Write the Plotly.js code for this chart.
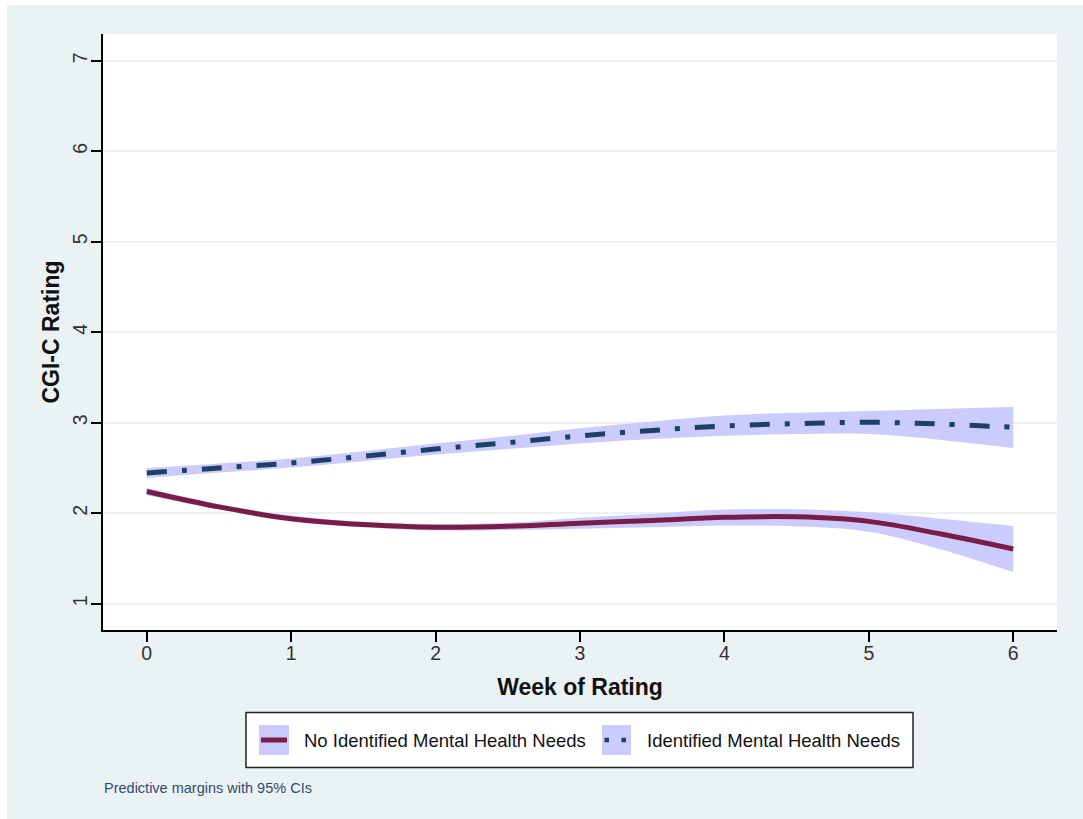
<!DOCTYPE html>
<html>
<head>
<meta charset="utf-8">
<script src="https://cdn.plot.ly/plotly-3.0.1.min.js"></script>
<style>
  html, body { margin: 0; padding: 0; background: #ffffff; }
  #chart { position: absolute; left: 7px; top: 5px; width: 1076px; height: 814px; }
</style>
</head>
<body>
<div id="chart"></div>
<script>
// ---- data ----
const weeks = [0, 0.5, 1, 1.5, 2, 2.5, 3, 3.5, 4, 4.5, 5, 5.5, 6];

const noNeedsMean = [2.24, 2.07, 1.94, 1.875, 1.845, 1.855, 1.89, 1.92, 1.955, 1.96, 1.91, 1.77, 1.605];
const noNeedsLo   = [2.20, 2.04, 1.905, 1.845, 1.81, 1.815, 1.83, 1.845, 1.865, 1.855, 1.795, 1.60, 1.35];
const noNeedsHi   = [2.28, 2.10, 1.975, 1.905, 1.88, 1.895, 1.95, 1.995, 2.04, 2.045, 2.01, 1.94, 1.86];

const needsMean = [2.445, 2.50, 2.555, 2.63, 2.71, 2.78, 2.855, 2.915, 2.965, 2.99, 3.005, 2.985, 2.95];
const needsLo   = [2.39, 2.45, 2.505, 2.575, 2.65, 2.71, 2.77, 2.82, 2.855, 2.875, 2.875, 2.81, 2.72];
const needsHi   = [2.50, 2.55, 2.605, 2.685, 2.77, 2.85, 2.94, 3.015, 3.08, 3.11, 3.13, 3.155, 3.175];

const seriesNames = ["No Identified Mental Health Needs", "Identified Mental Health Needs"];
const xTicks = [0, 1, 2, 3, 4, 5, 6];
const yTicks = [1, 2, 3, 4, 5, 6, 7];
const xTitle = "Week of Rating";
const yTitle = "CGI-C Rating";
const noteText = "Predictive margins with 95% CIs";

// ---- styles ----
const ciFill = "#ccccfc";
const colNo = "#7a1c4a";
const colYes = "#1f3f6b";
const bg = "#eaf2f3";
const font = "Liberation Sans, Arial, Helvetica, sans-serif";

function band(lo, hi) {
  return [
    {x: weeks, y: lo, mode: "lines", line: {width: 0, shape: "spline", smoothing: 1}, hoverinfo: "skip", showlegend: false},
    {x: weeks, y: hi, mode: "lines", line: {width: 0, shape: "spline", smoothing: 1}, fill: "tonexty", fillcolor: ciFill, hoverinfo: "skip", showlegend: false}
  ];
}

const traces = [
  ...band(noNeedsLo, noNeedsHi),
  ...band(needsLo, needsHi),
  {x: weeks, y: noNeedsMean, mode: "lines", name: seriesNames[0], showlegend: false,
   line: {color: colNo, width: 5, shape: "spline"}},
  {x: weeks, y: needsMean, mode: "lines", name: seriesNames[1], showlegend: false,
   line: {color: colYes, width: 5, shape: "spline", dash: "20px,15px,5px,15px"}}
];

// page-pixel -> paper coords (plot area: x 103..1057, y 34..630)
const PX = p => (p - 103) / 954;
const PY = p => (630 - p) / 596;

const shapes = [
  // legend box
  {type: "rect", xref: "paper", yref: "paper", x0: PX(246), x1: PX(913), y0: PY(712.5), y1: PY(767.5),
   fillcolor: "#ffffff", line: {color: "#222", width: 1.5}, layer: "above"},
  // symbol 1
  {type: "rect", xref: "paper", yref: "paper", x0: PX(259), x1: PX(289), y0: PY(725), y1: PY(755),
   fillcolor: ciFill, line: {width: 0}, layer: "above"},
  {type: "line", xref: "paper", yref: "paper", x0: PX(261), x1: PX(287), y0: PY(740), y1: PY(740),
   line: {color: colNo, width: 5}, layer: "above"},
  // symbol 2
  {type: "rect", xref: "paper", yref: "paper", x0: PX(602), x1: PX(631), y0: PY(725), y1: PY(755),
   fillcolor: ciFill, line: {width: 0}, layer: "above"},
  {type: "rect", xref: "paper", yref: "paper", x0: PX(604.5), x1: PX(609), y0: PY(742.3), y1: PY(737.7),
   fillcolor: colYes, line: {width: 0}, layer: "above"},
  {type: "rect", xref: "paper", yref: "paper", x0: PX(621.5), x1: PX(626), y0: PY(742.3), y1: PY(737.7),
   fillcolor: colYes, line: {width: 0}, layer: "above"}
];

const annotations = [
  {xref: "paper", yref: "paper", x: PX(302), y: PY(740), xanchor: "left", yanchor: "middle",
   text: seriesNames[0], showarrow: false, font: {family: font, size: 18.5, color: "#111"}},
  {xref: "paper", yref: "paper", x: PX(645), y: PY(740), xanchor: "left", yanchor: "middle",
   text: seriesNames[1], showarrow: false, font: {family: font, size: 18.5, color: "#111"}},
  {xref: "paper", yref: "paper", x: PX(102), y: PY(788), xanchor: "left", yanchor: "middle",
   text: noteText, showarrow: false, font: {family: font, size: 14.5, color: "#34496e"}}
];

const layout = {
  width: 1076, height: 814,
  margin: {l: 96, r: 26, t: 29, b: 189, pad: 0},
  paper_bgcolor: bg,
  plot_bgcolor: "#ffffff",
  font: {family: font, color: "#222"},
  showlegend: false,
  xaxis: {
    range: [-0.303, 6.303], tickvals: xTicks, ticks: "outside", ticklen: 10, tickwidth: 2, tickcolor: "#000",
    showline: true, linecolor: "#000", linewidth: 2, showgrid: false, zeroline: false,
    tickfont: {size: 19.5, color: "#333"}, ticklabelstandoff: -5,
    title: {text: xTitle, font: {size: 23, color: "#111", weight: "bold"}, standoff: 15}
  },
  yaxis: {
    range: [0.71, 7.295], tickvals: yTicks, ticks: "outside", ticklen: 10, tickwidth: 2, tickcolor: "#000",
    showline: true, linecolor: "#000", linewidth: 2, showgrid: true, gridcolor: bg, gridwidth: 2,
    zeroline: false, tickangle: -90, ticklabelstandoff: -4,
    tickfont: {size: 19.5, color: "#333"},
    title: {text: yTitle, font: {size: 23, color: "#111", weight: "bold"}, standoff: 3}
  },
  shapes: shapes,
  annotations: annotations
};

Plotly.newPlot("chart", traces, layout, {displayModeBar: false, staticPlot: true});
</script>
</body>
</html>
